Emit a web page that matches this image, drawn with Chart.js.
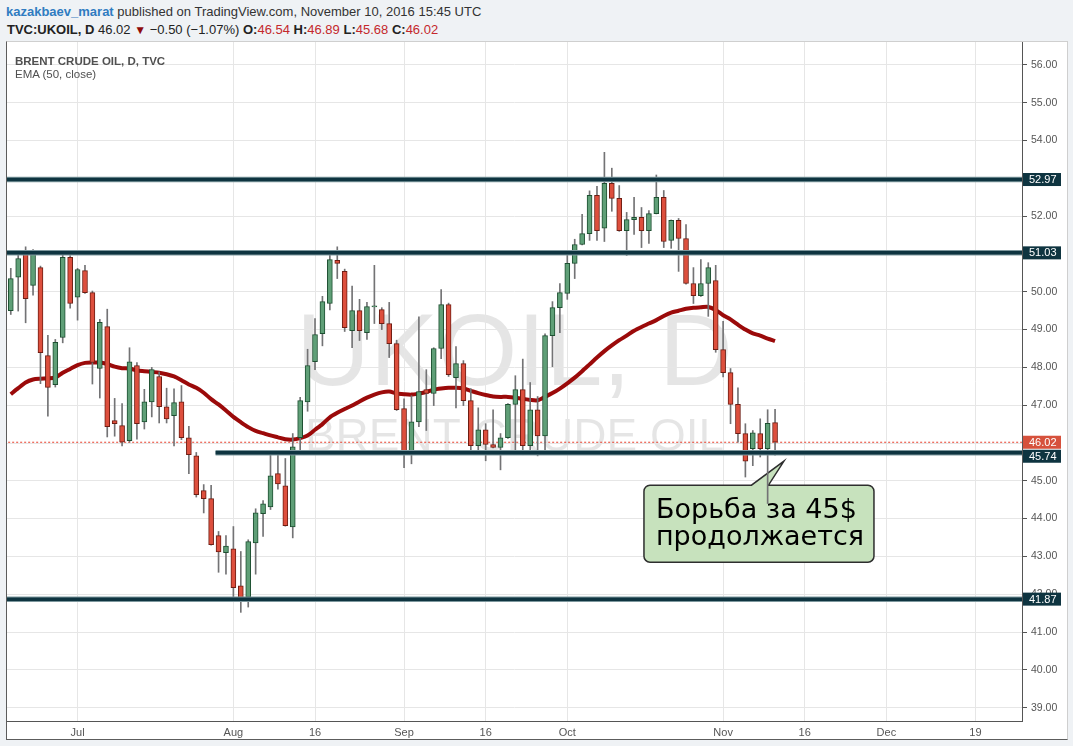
<!DOCTYPE html>
<html>
<head>
<meta charset="utf-8">
<title>UKOIL, D</title>
<script src="https://cdn.jsdelivr.net/npm/chart.js@4.4.1/dist/chart.umd.min.js"></script>
<style>
  html, body { margin: 0; padding: 0; width: 1073px; height: 746px; overflow: hidden;
    background: #eff2f5; font-family: "Liberation Sans", Arial, sans-serif; }
  .hdr { position: absolute; white-space: nowrap; font-size: 13px; line-height: 15px; color: #333; }
  #line1 { left: 6px; top: 4px; }
  #line1 .user { color: #2f7cc1; font-weight: bold; }
  #line2 { left: 7px; top: 22px; color: #222; }
  #line2 b { font-weight: bold; }
  #line2 .r { color: #c4282c; }
  #line2 .tri { color: #8e0b0b; font-size: 12px; }
  #panel { position: absolute; left: 6px; top: 41px; width: 1060px; height: 697px; background: #fff;
    border-left: 1px solid #5c5c5c; border-top: 1px solid #cfcfcf;
    border-right: 1px solid #cfcfcf; border-bottom: 1px solid #5c5c5c; }
  #chart { position: absolute; left: 0; top: 0; }
  .legend { position: absolute; left: 8px; font-size: 11.5px; line-height: 13px; color: #505050;
    white-space: nowrap; pointer-events: none; }
  #lg1 { top: 12.5px; font-weight: bold; }
  #lg2 { top: 25.5px; }
</style>
</head>
<body>
<div id="line1" class="hdr"><span class="user">kazakbaev_marat</span> published on TradingView.com, November 10, 2016 15:45 UTC</div>
<div id="line2" class="hdr"><b>TVC:UKOIL, D</b> <span id="last"></span> <span class="tri">&#9660;</span> <span id="chg"></span> <b>O:</b><span class="r" id="vo"></span> <b>H:</b><span class="r" id="vh"></span> <b>L:</b><span class="r" id="vl"></span> <b>C:</b><span class="r" id="vc"></span></div>

<div id="panel">
  <canvas id="chart" width="1060" height="697"></canvas>
  <div id="lg1" class="legend">BRENT CRUDE OIL, D, TVC</div>
  <div id="lg2" class="legend">EMA (50, close)</div>
</div>

<script>
// Daily Brent candles, one entry per trading session (index 0 = Jun 20, 2016 ... index 103 = Nov 10, 2016)
const open = [
  49.50, 50.39, 51.00, 50.17, 50.64, 48.31, 47.54, 48.79, 50.91, 49.86,
  50.56, 49.98, 47.97, 49.08, 46.59, 46.46, 46.06, 48.05, 46.56, 47.09,
  47.76, 46.96, 46.72, 47.09, 46.14, 45.66, 44.74, 44.53, 43.55, 43.10,
  43.20, 42.22, 41.92, 43.36, 44.13, 44.31, 45.19, 44.87, 43.78, 46.14,
  47.09, 48.15, 48.89, 49.69, 50.83, 50.54, 48.97, 49.50, 48.92, 49.60,
  49.53, 49.16, 48.63, 46.91, 45.77, 46.56, 47.41, 47.31, 48.50, 49.66,
  47.73, 48.10, 47.12, 45.93, 46.35, 45.96, 45.88, 46.14, 47.02, 47.41,
  45.93, 46.88, 46.19, 48.84, 49.58, 49.96, 50.75, 51.25, 51.54, 52.55,
  51.68, 52.87, 52.47, 51.62, 51.91, 51.97, 51.62, 52.07, 52.50, 51.36,
  51.89, 51.41, 50.22, 49.90, 50.22, 50.30, 48.47, 47.86, 47.02, 46.25,
  45.85, 46.25, 45.85, 46.54
];
const high = [
  50.62, 51.03, 51.19, 51.12, 50.68, 48.85, 48.74, 51.00, 50.96, 50.62,
  50.70, 50.02, 49.27, 49.54, 47.18, 47.04, 48.52, 48.13, 47.42, 48.00,
  47.88, 47.45, 47.43, 47.52, 46.44, 45.75, 44.90, 44.88, 43.66, 43.55,
  43.79, 43.13, 43.44, 44.26, 44.48, 45.69, 45.69, 45.59, 46.25, 47.21,
  48.48, 49.29, 49.88, 51.01, 51.19, 50.60, 50.15, 49.80, 49.72, 50.70,
  49.58, 49.72, 48.72, 47.17, 47.25, 49.34, 47.94, 48.52, 50.06, 49.70,
  48.55, 48.18, 47.44, 46.93, 46.51, 46.88, 46.25, 47.04, 47.78, 48.22,
  47.60, 47.23, 48.89, 49.74, 50.22, 51.09, 51.39, 52.05, 52.67, 52.79,
  53.69, 53.27, 52.81, 52.10, 52.50, 52.23, 52.15, 53.09, 52.68, 51.90,
  51.94, 51.78, 50.64, 50.85, 50.77, 50.70, 49.22, 47.97, 47.46, 46.51,
  46.33, 46.64, 46.88, 46.89
];
const low = [
  49.40, 49.49, 49.18, 49.91, 47.57, 46.71, 47.48, 48.65, 49.57, 49.25,
  49.96, 47.56, 47.19, 46.16, 46.18, 45.92, 46.02, 46.10, 46.37, 46.69,
  46.53, 46.53, 45.92, 46.09, 45.19, 44.57, 44.15, 43.30, 42.58, 42.53,
  41.88, 41.52, 41.66, 42.53, 43.53, 44.24, 44.78, 43.80, 43.49, 45.79,
  46.84, 47.94, 48.57, 49.52, 50.35, 48.95, 48.52, 48.71, 48.74, 49.16,
  49.00, 48.26, 46.86, 45.35, 45.45, 46.43, 46.33, 46.99, 48.23, 47.76,
  46.93, 46.99, 45.72, 45.72, 45.53, 45.87, 45.29, 46.12, 45.72, 45.69,
  45.77, 45.66, 45.74, 48.02, 48.92, 49.80, 50.35, 51.24, 51.36, 51.36,
  51.33, 52.13, 51.60, 50.96, 51.52, 51.17, 51.28, 52.06, 51.17, 51.15,
  50.54, 50.20, 49.69, 49.88, 49.35, 48.40, 47.75, 46.51, 46.02, 45.10,
  45.40, 45.63, 44.40, 45.68
];
const close = [
  50.35, 50.88, 49.82, 51.08, 48.39, 47.47, 48.66, 50.91, 49.69, 50.59,
  49.98, 48.13, 49.19, 46.43, 46.51, 46.02, 48.15, 46.51, 47.09, 47.94,
  46.96, 46.64, 47.07, 46.14, 45.69, 44.63, 44.53, 43.31, 43.12, 43.27,
  42.17, 41.90, 43.39, 44.15, 44.39, 45.13, 44.92, 43.81, 45.90, 47.12,
  48.05, 48.87, 49.74, 50.85, 50.75, 49.05, 49.50, 48.97, 49.61, 49.62,
  49.16, 48.63, 46.88, 45.77, 46.56, 47.36, 47.31, 48.50, 49.66, 47.81,
  48.10, 47.12, 45.93, 46.35, 45.96, 45.88, 46.14, 47.02, 47.41, 45.93,
  46.88, 46.19, 48.84, 49.58, 49.98, 50.75, 51.25, 51.54, 52.55, 51.62,
  52.87, 52.47, 51.62, 51.91, 51.97, 51.62, 52.07, 52.50, 51.33, 51.89,
  51.41, 50.22, 49.90, 50.22, 50.64, 48.47, 47.86, 47.02, 46.25, 45.52,
  46.27, 45.85, 46.52, 46.02
];
// EMA(50, close) as plotted for the same sessions
const ema50 = [
  47.29, 47.45, 47.60, 47.68, 47.70, 47.71, 47.73, 47.86, 47.96, 48.06,
  48.12, 48.13, 48.13, 48.09, 48.02, 47.98, 47.97, 47.92, 47.90, 47.88,
  47.86, 47.82, 47.76, 47.66, 47.55, 47.46, 47.33, 47.16, 47.02, 46.86,
  46.69, 46.55, 46.42, 46.32, 46.26, 46.20, 46.15, 46.10, 46.09, 46.13,
  46.20, 46.35, 46.50, 46.68, 46.80, 46.90, 46.99, 47.10, 47.20, 47.28,
  47.34, 47.36, 47.31, 47.29, 47.28, 47.31, 47.35, 47.41, 47.44, 47.46,
  47.46, 47.44, 47.38, 47.32, 47.27, 47.23, 47.22, 47.22, 47.20, 47.17,
  47.14, 47.13, 47.22, 47.32, 47.44, 47.58, 47.73, 47.90, 48.08, 48.26,
  48.43, 48.58, 48.72, 48.84, 48.97, 49.07, 49.16, 49.25, 49.36, 49.45,
  49.50, 49.55, 49.58, 49.59, 49.60, 49.52, 49.38, 49.27, 49.13, 49.00,
  48.90, 48.84, 48.76, 48.70
];
// Support / resistance levels and the session index each one is drawn from
const levels = [52.97, 51.03, 45.74, 41.87];
const levelFrom = [-2, -2, 27.6, -2];
// Date axis: session index of each labelled date
const tickIdx = [9, 30, 41, 53, 64, 75, 96, 107, 118, 130];
const tickLabels = ['Jul', 'Aug', '16', 'Sep', '16', 'Oct', 'Nov', '16', 'Dec', '19'];
// Price axis ticks
const priceTicks = [39, 40, 41, 42, 43, 44, 45, 46, 47, 48, 49, 50, 51, 52, 53, 54, 55, 56];
// Note with its arrow pointing at (session index, price)
const noteLines = ['Борьба за 45$', 'продолжается'];
const noteTip = { x: 104.2, y: 45.52 };

// ---- view range ----
const X_MIN = -0.51, X_MAX = 136.28;
const Y_MIN = 38.646, Y_MAX = 56.608;

const UP_FILL = '#5f9f77', UP_LINE = '#1d4f31';
const DN_FILL = '#dd4f3d', DN_LINE = '#6e1d13';
const WICK = '#737375';
const LEVEL_CORE = '#0e3440', LEVEL_HALO = '#7d979d';
const FONT = '"Liberation Sans", Arial, sans-serif';

const last = close.length - 1;
const change = close[last] - close[last - 1];
const fmtSigned = v => (v < 0 ? '\u2212' : '+') + Math.abs(v).toFixed(2);
document.getElementById('last').textContent = close[last].toFixed(2);
document.getElementById('chg').textContent =
  fmtSigned(change) + ' (' + fmtSigned(change / close[last - 1] * 100) + '%)';
document.getElementById('vo').textContent = open[last].toFixed(2);
document.getElementById('vh').textContent = high[last].toFixed(2);
document.getElementById('vl').textContent = low[last].toFixed(2);
document.getElementById('vc').textContent = close[last].toFixed(2);

const isUp = open.map((o, i) => close[i] >= o);
const bodyData = open.map((o, i) => ({ x: i, y: [o, close[i]] }));
const wickData = open.map((o, i) => ({ x: i, y: [low[i], high[i]] }));
const emaData = ema50.map((v, i) => ({ x: i, y: v }));

const levelSets = [];
levels.forEach((lv, k) => {
  const pts = [{ x: levelFrom[k], y: lv }, { x: X_MAX + 2, y: lv }];
  levelSets.push({ type: 'line', data: pts, borderColor: LEVEL_HALO, borderWidth: 5.5,
    pointRadius: 0, order: 1, borderCapStyle: 'butt' });
  levelSets.push({ type: 'line', data: pts, borderColor: LEVEL_CORE, borderWidth: 3.5,
    pointRadius: 0, order: 0, borderCapStyle: 'butt' });
});

// Big faint symbol name behind the plot
const watermark = {
  id: 'watermark',
  beforeDraw(chart) {
    const { ctx, chartArea: ca } = chart;
    const cx = (ca.left + ca.right) / 2;
    ctx.save();
    ctx.fillStyle = 'rgba(0,0,0,0.1)';
    ctx.textAlign = 'center';
    ctx.textBaseline = 'alphabetic';
    ctx.font = '102px ' + FONT;
    ctx.fillText('UKOIL, D', cx, ca.top + 343);
    ctx.font = '46px ' + FONT;
    ctx.fillText('BRENT CRUDE OIL', cx, ca.top + 409);
    ctx.restore();
  }
};

// Speech-bubble note, anchored at a price/session point
const note = {
  id: 'note',
  beforeDatasetsDraw(chart) {
    const { ctx } = chart;
    const tx = chart.scales.x.getPixelForValue(noteTip.x);
    const ty = chart.scales.y.getPixelForValue(noteTip.y);
    const L = tx - 140, R = tx + 90, T = ty + 24, B = ty + 101, r = 6;
    const b1 = tx - 32.5, b2 = tx - 15.5;
    ctx.save();
    ctx.beginPath();
    ctx.moveTo(L + r, T);
    ctx.lineTo(b1, T);
    ctx.lineTo(tx, ty);
    ctx.lineTo(b2, T);
    ctx.lineTo(R - r, T);
    ctx.arcTo(R, T, R, T + r, r);
    ctx.lineTo(R, B - r);
    ctx.arcTo(R, B, R - r, B, r);
    ctx.lineTo(L + r, B);
    ctx.arcTo(L, B, L, B - r, r);
    ctx.lineTo(L, T + r);
    ctx.arcTo(L, T, L + r, T, r);
    ctx.closePath();
    ctx.fillStyle = '#c7e2bd';
    ctx.fill();
    ctx.lineWidth = 1.5;
    ctx.strokeStyle = '#2e2e2e';
    ctx.stroke();
    ctx.fillStyle = '#000';
    ctx.font = '27px "DejaVu Sans", sans-serif';
    ctx.textAlign = 'left';
    ctx.textBaseline = 'alphabetic';
    ctx.fillText(noteLines[0], L + 12, T + 33);
    ctx.fillText(noteLines[1], L + 12, T + 60);
    ctx.restore();
  }
};

// Price badges on the right axis for the levels and the last close
const badges = {
  id: 'badges',
  afterDraw(chart) {
    const { ctx, chartArea: ca } = chart;
    const ys = chart.scales.y;
    const items = levels.map(v => ({ v, bg: LEVEL_CORE }))
      .concat([{ v: close[last], bg: '#d6513c' }])
      .map(o => Object.assign(o, { py: ys.getPixelForValue(o.v) }))
      .sort((a, b) => a.py - b.py);
    const h = 13;
    let prevBottom = -1e9;
    ctx.save();
    ctx.font = '11px ' + FONT;
    ctx.textBaseline = 'middle';
    ctx.textAlign = 'left';
    items.forEach(it => {
      let top = it.py - h / 2;
      if (top < prevBottom + 1) top = prevBottom + 1;
      ctx.fillStyle = it.bg;
      ctx.fillRect(ca.right + 1, top, 38, h);
      ctx.fillStyle = '#fff';
      ctx.fillText(it.v.toFixed(2), ca.right + 7, top + h / 2 + 0.5);
      prevBottom = top + h;
    });
    ctx.restore();
  }
};

new Chart(document.getElementById('chart'), {
  type: 'bar',
  data: {
    datasets: [
      ...levelSets,
      { type: 'bar', data: bodyData, grouped: false, barThickness: 5, minBarLength: 1,
        backgroundColor: isUp.map(u => u ? UP_FILL : DN_FILL),
        borderColor: isUp.map(u => u ? UP_LINE : DN_LINE),
        borderWidth: 1, borderSkipped: false, order: 2 },
      { type: 'bar', data: wickData, grouped: false, barThickness: 1,
        backgroundColor: WICK, borderWidth: 0, order: 3 },
      { type: 'line', data: emaData, borderColor: '#9b0a0a', borderWidth: 4,
        pointRadius: 0, tension: 0.25, order: 4 },
      { type: 'line', data: [{ x: X_MIN - 2, y: close[last] }, { x: X_MAX + 2, y: close[last] }],
        borderColor: '#e8402e', borderWidth: 1, borderDash: [2, 2], pointRadius: 0, order: 5 }
    ]
  },
  options: {
    responsive: false,
    devicePixelRatio: 1,
    animation: false,
    events: [],
    layout: { padding: 0 },
    plugins: { legend: { display: false }, tooltip: { enabled: false } },
    scales: {
      x: {
        type: 'linear', min: X_MIN, max: X_MAX, offset: false,
        grid: { offset: false, color: '#e6e6e6', drawTicks: false },
        border: { display: true, color: '#555', width: 1 },
        afterBuildTicks: s => { s.ticks = tickIdx.map(v => ({ value: v })); },
        ticks: {
          autoSkip: false, maxRotation: 0, padding: 5, color: '#555',
          font: { size: 11, family: FONT },
          callback: (v, i) => tickLabels[i]
        },
        afterFit: s => { s.height = 18; s.paddingLeft = 0; s.paddingRight = 0; }
      },
      y: {
        type: 'linear', position: 'right', min: Y_MIN, max: Y_MAX, beginAtZero: false,
        grid: { color: '#e6e6e6', tickColor: '#555', tickLength: 5, drawTicks: true },
        border: { display: true, color: '#555', width: 1 },
        afterBuildTicks: s => { s.ticks = priceTicks.map(v => ({ value: v })); },
        ticks: {
          padding: 4, color: '#555', font: { size: 10.5, family: FONT },
          callback: v => Number(v).toFixed(2)
        },
        afterFit: s => { s.width = 45; s.paddingTop = 0; s.paddingBottom = 0; }
      }
    }
  },
  plugins: [watermark, note, badges]
});
</script>
</body>
</html>
